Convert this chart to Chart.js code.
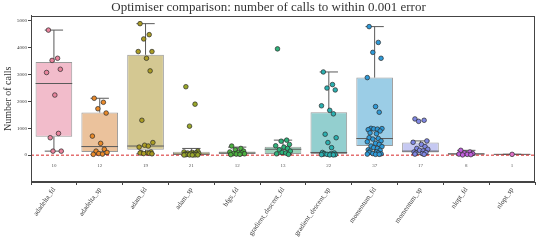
<!DOCTYPE html>
<html><head><meta charset="utf-8">
<script src="https://cdn.jsdelivr.net/npm/chart.js@4/dist/chart.umd.min.js"></script>
<style>html,body{margin:0;padding:0;background:#fff}#wrap{width:540px;height:240px}</style>
</head><body><div id="wrap"><canvas id="c" width="540" height="240"></canvas></div>
<script>
const categories = ["adadelta_fd","adadelta_sp","adam_fd","adam_sp","bfgs_fd","gradient_descent_fd","gradient_descent_sp","momentum_fd","momentum_sp","nlopt_fd","nlopt_sp"];
const counts = [10,12,19,21,12,13,22,37,17,8,1];
const whiskerLo = [150,30,50,0,10,20,10,30,20,0,30];
const q1 = [690,120,200,10,40,40,40,340,100,20,30];
const median = [2670,320,340,40,80,220,100,620,150,40,30];
const q3 = [3470,1590,3740,130,140,310,1600,2890,470,80,30];
const whiskerHi = [4660,2120,4900,250,300,560,3100,4790,530,180,30];
const points = [
  [4660,3610,3530,3200,3080,2240,810,650,150,150],
  [2120,1970,1730,1570,710,440,220,150,100,60,40,30],
  [4900,4490,4330,3860,3860,3610,3140,1300,470,370,340,300,120,100,90,80,70,60,50],
  [2550,1900,1080,150,120,100,90,80,70,60,50,40,30,30,20,20,10,10,10,5,5],
  [340,250,200,150,120,100,80,60,50,40,30,20],
  [3960,560,520,400,350,300,250,200,150,100,80,50,30],
  [3100,2630,2500,2430,1840,1670,1540,780,650,470,280,100,80,60,50,40,30,30,20,20,10,10],
  [4790,4200,3830,3610,2890,1810,1600,1000,990,980,970,950,900,830,800,650,620,600,530,500,440,400,340,320,280,250,200,180,150,120,100,80,60,50,40,30,30],
  [1350,1300,1260,530,480,400,320,250,220,180,160,120,100,80,60,40,30],
  [180,120,80,60,40,30,20,10],
  [30]
];
const yTicks = [0,1000,2000,3000,4000,5000];

const boxColors = ["#f2bccb","#ebc29c","#d4c892","#d6d8a0","#b8dca8","#9ed2bc","#93cfcf","#9bcde6","#c6c9f2","#dcbaf0","#f0c0e2"];
const ptColors = ["#e9849d","#e8892a","#aa9c24","#9aa82a","#4cb040","#2eb27a","#2bb0b0","#2f9ad8","#8088e4","#c060dc","#e070c8"];
const jitter = [-0.12,0.08,-0.04,0.14,-0.16,0.02,0.1,-0.08,0.16,-0.02,0.06,-0.14,0.12,-0.1,0.04];

const serif = "'Liberation Serif', 'DejaVu Serif', serif";
const boxData = categories.map((c,i)=>({x:i, y:[q1[i], q3[i]]}));
const scatterData = [];
const scatterColors = [];
points.forEach((arr,i)=>arr.forEach((v,k)=>{scatterData.push({x:i+jitter[k%jitter.length]*(arr.length>1?1:0), y:v}); scatterColors.push(ptColors[i]);}));

const extras = {
  id:'extras',
  afterDatasetDraw(chart, args){
    if(args.index!==0) return;
    const ctx = chart.ctx, xs = chart.scales.x, ys = chart.scales.y;
    const hw = (xs.getPixelForValue(1)-xs.getPixelForValue(0))*0.4;
    ctx.save();
    ctx.strokeStyle = '#5a5a5a'; ctx.lineWidth = 1;
    categories.forEach((c,i)=>{
      const x = xs.getPixelForValue(i);
      const capW = hw*0.5;
      ctx.beginPath();
      ctx.moveTo(x, ys.getPixelForValue(q3[i])); ctx.lineTo(x, ys.getPixelForValue(whiskerHi[i]));
      ctx.moveTo(x, ys.getPixelForValue(q1[i])); ctx.lineTo(x, ys.getPixelForValue(whiskerLo[i]));
      ctx.moveTo(x-capW, ys.getPixelForValue(whiskerHi[i])); ctx.lineTo(x+capW, ys.getPixelForValue(whiskerHi[i]));
      ctx.moveTo(x-capW, ys.getPixelForValue(whiskerLo[i])); ctx.lineTo(x+capW, ys.getPixelForValue(whiskerLo[i]));
      ctx.moveTo(x-hw, ys.getPixelForValue(median[i])); ctx.lineTo(x+hw, ys.getPixelForValue(median[i]));
      ctx.stroke();
    });
    ctx.strokeStyle = '#d62728'; ctx.setLineDash([3,2]); ctx.lineWidth=1;
    const y0 = ys.getPixelForValue(0);
    ctx.beginPath(); ctx.moveTo(chart.chartArea.left, y0); ctx.lineTo(chart.chartArea.right, y0); ctx.stroke();
    ctx.setLineDash([]);
    ctx.fillStyle = '#555'; ctx.font = "5px " + serif; ctx.textAlign='center'; ctx.textBaseline='middle';
    counts.forEach((n,i)=>ctx.fillText(String(n), xs.getPixelForValue(i), ys.getPixelForValue(-400)));
    ctx.restore();
  },
  afterDraw(chart){
    const a = chart.chartArea, ctx = chart.ctx;
    ctx.save(); ctx.strokeStyle='#444'; ctx.lineWidth=1;
    ctx.strokeRect(Math.round(a.left)+0.5, Math.round(a.top)+0.5, Math.round(a.right-a.left)-1, Math.round(a.bottom-a.top)-1);
    ctx.restore();
  }
};

new Chart(document.getElementById('c'), {
  data: {
    datasets: [
      {type:'bar', data: boxData, backgroundColor: boxColors, borderColor:'#9a9a9a', borderWidth:1, borderSkipped:false, barPercentage:1, categoryPercentage:0.8, order:2},
      {type:'scatter', data: scatterData, pointBackgroundColor: scatterColors, pointBorderColor:'#2a2a2a', pointBorderWidth:0.7, pointRadius:2.3, order:1}
    ]
  },
  options: {
    responsive:false, animation:false,
    layout:{padding:{left:2,right:5,top:0,bottom:0}},
    plugins:{
      legend:{display:false}, tooltip:{enabled:false},
      title:{display:true, text:'Optimiser comparison: number of calls to within 0.001 error', color:'#333', font:{family:serif, size:13, weight:'normal'}, padding:{top:0,bottom:0}}
    },
    scales:{
      x:{type:'linear', min:-0.5, max:10.5, offset:false,
         afterBuildTicks(s){ s.ticks = categories.map((c,i)=>({value:i})); },
         afterFit(s){ s.height = 58; },
         ticks:{callback:(v)=>categories[v], autoSkip:false, maxRotation:55, minRotation:55, color:'#333', font:{family:serif, size:7}, padding:1},
         grid:{drawOnChartArea:false, drawTicks:true, tickLength:3, color:'#444'}, border:{color:'#444'}},
      y:{min:-1000, max:5200,
         afterBuildTicks(s){ s.ticks = yTicks.map(v=>({value:v})); },
         ticks:{callback:(v)=>String(v), color:'#333', font:{family:serif, size:5}, padding:1},
         title:{display:true, text:'Number of calls', color:'#333', font:{family:serif, size:10}, padding:{top:0,bottom:2}},
         grid:{drawOnChartArea:false, drawTicks:true, tickLength:3, color:'#444'}, border:{color:'#444'}}
    }
  },
  plugins:[extras]
});
</script></body></html>
